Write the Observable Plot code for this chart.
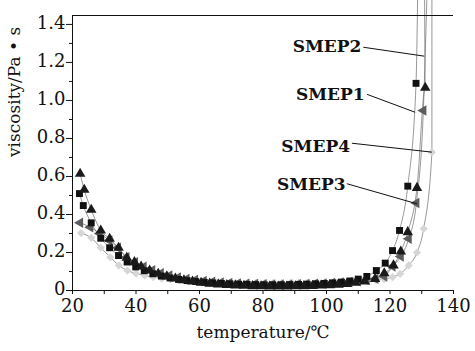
<!DOCTYPE html>
<html><head><meta charset="utf-8">
<script src="https://cdn.jsdelivr.net/npm/d3@7"></script>
<script src="https://cdn.jsdelivr.net/npm/@observablehq/plot@0.6"></script>
<style>
body{margin:0;background:#fff}
#chart svg, #chart svg text{font-family:"DejaVu Serif",serif !important;}
</style>
</head><body><div id="chart"></div>
<script>
// ---- data ----
const seriesNames = ["SMEP1", "SMEP2", "SMEP3", "SMEP4"];

const smep1Temp = [22.2, 23.4, 25.9, 28.9, 31.7, 34.5, 37.2, 39.9, 42.6, 45.3, 48.0, 50.7, 53.4, 56.1, 58.8, 61.5, 64.2, 66.9, 69.6, 72.3, 75.0, 77.7, 80.4, 83.1, 85.8, 88.5, 91.2, 93.9, 96.6, 99.3, 102.0, 104.7, 107.4, 110.0, 112.7, 115.7, 118.5, 120.8, 123.0, 125.6, 128.2];
const smep1Visc = [0.51, 0.447, 0.356, 0.275, 0.225, 0.184, 0.15, 0.124, 0.104, 0.088, 0.076, 0.066, 0.058, 0.052, 0.047, 0.043, 0.04, 0.037, 0.035, 0.033, 0.032, 0.031, 0.03, 0.03, 0.03, 0.031, 0.032, 0.033, 0.035, 0.037, 0.04, 0.044, 0.05, 0.06, 0.074, 0.105, 0.144, 0.21, 0.316, 0.549, 1.09];

const smep2Temp = [22.4, 23.7, 25.9, 28.9, 31.7, 34.5, 37.1, 39.5, 41.6, 44.3, 47.0, 49.7, 52.4, 55.1, 57.8, 60.5, 63.2, 65.9, 68.6, 71.3, 74.0, 76.7, 79.4, 82.1, 84.8, 87.5, 90.2, 92.9, 95.6, 98.3, 101.0, 103.7, 106.4, 109.1, 112.0, 115.3, 118.2, 121.1, 123.4, 125.6, 128.5, 131.1];
const smep2Visc = [0.614, 0.53, 0.425, 0.316, 0.272, 0.225, 0.172, 0.149, 0.126, 0.105, 0.088, 0.074, 0.063, 0.054, 0.047, 0.041, 0.036, 0.032, 0.029, 0.027, 0.025, 0.023, 0.022, 0.021, 0.021, 0.021, 0.022, 0.023, 0.024, 0.026, 0.028, 0.031, 0.035, 0.041, 0.048, 0.061, 0.091, 0.132, 0.205, 0.307, 0.54, 1.067];

const smep3Temp = [22.4, 25.6, 28.6, 31.6, 34.3, 37.0, 39.7, 42.4, 45.1, 47.8, 50.5, 53.2, 55.9, 58.6, 61.3, 64.0, 66.7, 69.4, 72.1, 74.8, 77.5, 80.2, 82.9, 85.6, 88.3, 91.0, 93.7, 96.4, 99.1, 101.8, 104.5, 107.2, 109.9, 112.6, 115.4, 118.2, 120.8, 123.4, 125.9, 128.3, 130.5];
const smep3Visc = [0.356, 0.333, 0.30, 0.263, 0.225, 0.175, 0.149, 0.125, 0.106, 0.091, 0.079, 0.069, 0.061, 0.055, 0.05, 0.046, 0.042, 0.039, 0.037, 0.035, 0.034, 0.033, 0.032, 0.032, 0.032, 0.033, 0.034, 0.035, 0.037, 0.039, 0.042, 0.045, 0.049, 0.055, 0.062, 0.074, 0.126, 0.179, 0.272, 0.46, 0.947];

const smep4Temp = [22.7, 25.9, 28.9, 31.9, 34.6, 37.3, 40.0, 42.7, 45.4, 48.1, 50.8, 53.5, 56.2, 58.9, 61.6, 64.3, 67.0, 69.7, 72.4, 75.1, 77.8, 80.5, 83.2, 85.9, 88.6, 91.3, 94.0, 96.7, 99.4, 102.1, 104.8, 107.5, 110.2, 112.9, 115.6, 118.2, 120.8, 123.2, 125.9, 128.5, 130.6, 133.2];
const smep4Visc = [0.302, 0.277, 0.225, 0.175, 0.132, 0.105, 0.09, 0.079, 0.07, 0.063, 0.058, 0.054, 0.051, 0.048, 0.046, 0.044, 0.043, 0.042, 0.041, 0.04, 0.04, 0.04, 0.04, 0.04, 0.04, 0.041, 0.041, 0.042, 0.043, 0.044, 0.045, 0.046, 0.048, 0.05, 0.054, 0.06, 0.07, 0.088, 0.132, 0.2, 0.325, 0.728];

// where each fitted curve leaves the top of the picture
const curveExitTemp = [128.7, 130.9, 131.6, 133.2];
const curveExitVisc = [1.53, 1.53, 1.53, 1.53];

// annotation labels: text end, and leader from -> to (data units)
const labelTemp = [112.0, 111.0, 106.0, 107.4];
const labelVisc = [1.03, 1.285, 0.558, 0.757];
const leaderFromTemp = [112.8, 111.6, 106.4, 108.0];
const leaderFromVisc = [1.032, 1.28, 0.562, 0.775];
const leaderToTemp = [127.9, 130.8, 128.5, 133.2];
const leaderToVisc = [0.938, 1.233, 0.456, 0.728];

const xTicks = [20, 40, 60, 80, 100, 120, 140];
const xMinorTicks = [30, 50, 70, 90, 110, 130];
const yTicks = [0, 0.2, 0.4, 0.6, 0.8, 1.0, 1.2, 1.4];
const yMinorTicks = [0.1, 0.3, 0.5, 0.7, 0.9, 1.1, 1.3];
const xDomain = [20, 140];
const yDomain = [0, 1.447];

// ---- build tables ----
const temps = [smep1Temp, smep2Temp, smep3Temp, smep4Temp];
const viscs = [smep1Visc, smep2Visc, smep3Visc, smep4Visc];
const points = seriesNames.map((s, k) => temps[k].map((t, i) => ({series: s, t, v: viscs[k][i]})));
const curves = seriesNames.map((s, k) => [...points[k], {series: s, t: curveExitTemp[k], v: curveExitVisc[k]}]);
const labels = seriesNames.map((s, k) => ({name: s, t: labelTemp[k], v: labelVisc[k],
  x1: leaderFromTemp[k], y1: leaderFromVisc[k], x2: leaderToTemp[k], y2: leaderToVisc[k]}));

// left-pointing triangle symbol
const leftTriangle = {
  draw(ctx, size) {
    const a = Math.sqrt(size * 4 / Math.sqrt(3));
    const h = a * Math.sqrt(3) / 2;
    ctx.moveTo(-2 * h / 3, 0);
    ctx.lineTo(h / 3, -a / 2);
    ctx.lineTo(h / 3, a / 2);
    ctx.closePath();
  }
};

const serif = "DejaVu Serif";
const chart = Plot.plot({
  width: 475,
  height: 351,
  marginLeft: 72,
  marginRight: 22,
  marginTop: 15,
  marginBottom: 61,
  style: {fontFamily: serif, fontSize: "18px", color: "#111", background: "#fff"},
  x: {domain: xDomain},
  y: {domain: yDomain},
  marks: [
    // fitted curves
    ...curves.map(c => Plot.line(c, {x: "t", y: "v", stroke: "#6a6a6a", strokeWidth: 0.7, curve: "monotone-x"})),
    // markers
    Plot.dot(points[3], {x: "t", y: "v", symbol: "diamond2", r: 3.7, fill: "#d6d6d6", stroke: "none"}),
    Plot.dot(points[2], {x: "t", y: "v", symbol: leftTriangle, r: 3.9, fill: "#5c5c5c", stroke: "none"}),
    Plot.dot(points[0], {x: "t", y: "v", symbol: "square", r: 3.9, fill: "#111", stroke: "none"}),
    Plot.dot(points[1], {x: "t", y: "v", symbol: "triangle", r: 3.9, fill: "#1a1a1a", stroke: "none"}),
    // annotations
    Plot.link(labels, {x1: "x1", y1: "y1", x2: "x2", y2: "y2", stroke: "#111", strokeWidth: 1}),
    Plot.text(labels, {x: "t", y: "v", text: "name", textAnchor: "end", fontFamily: serif, fontWeight: "bold", fontSize: 17, fill: "#111"}),
    // axes
    Plot.ruleX([xDomain[0]], {stroke: "#111"}),
    Plot.ruleY([yDomain[0]], {stroke: "#111"}),
    Plot.ruleY([yDomain[1]], {stroke: "#111"}),
    Plot.axisX({ticks: xTicks, tickSize: 4, tickPadding: 5, label: null, stroke: "#111", fontFamily: serif, fontSize: 18}),
    Plot.axisX({ticks: xMinorTicks, tickSize: 4, tickFormat: () => "", label: null, stroke: "#111"}),
    Plot.axisY({ticks: yTicks, tickSize: 6, tickFormat: () => "", label: null, stroke: "#111"}),
    Plot.axisY({ticks: yTicks, tickSize: 0, tickPadding: 7, dy: -1, tickFormat: d => d === 0 ? "0" : d.toFixed(1), label: null, fontFamily: serif, fontSize: 18}),
    Plot.axisY({ticks: yMinorTicks, tickSize: 3, tickFormat: () => "", label: null, stroke: "#111"}),
    Plot.text(["temperature/℃"], {frameAnchor: "bottom", dy: 47, fontFamily: serif, fontSize: 17, fill: "#111"}),
    Plot.text(["viscosity/Pa • s"], {frameAnchor: "left", dx: -58, dy: 4, rotate: -90, fontFamily: serif, fontSize: 17, fill: "#111"})
  ]
});
document.getElementById("chart").appendChild(chart);
</script>
</body></html>
